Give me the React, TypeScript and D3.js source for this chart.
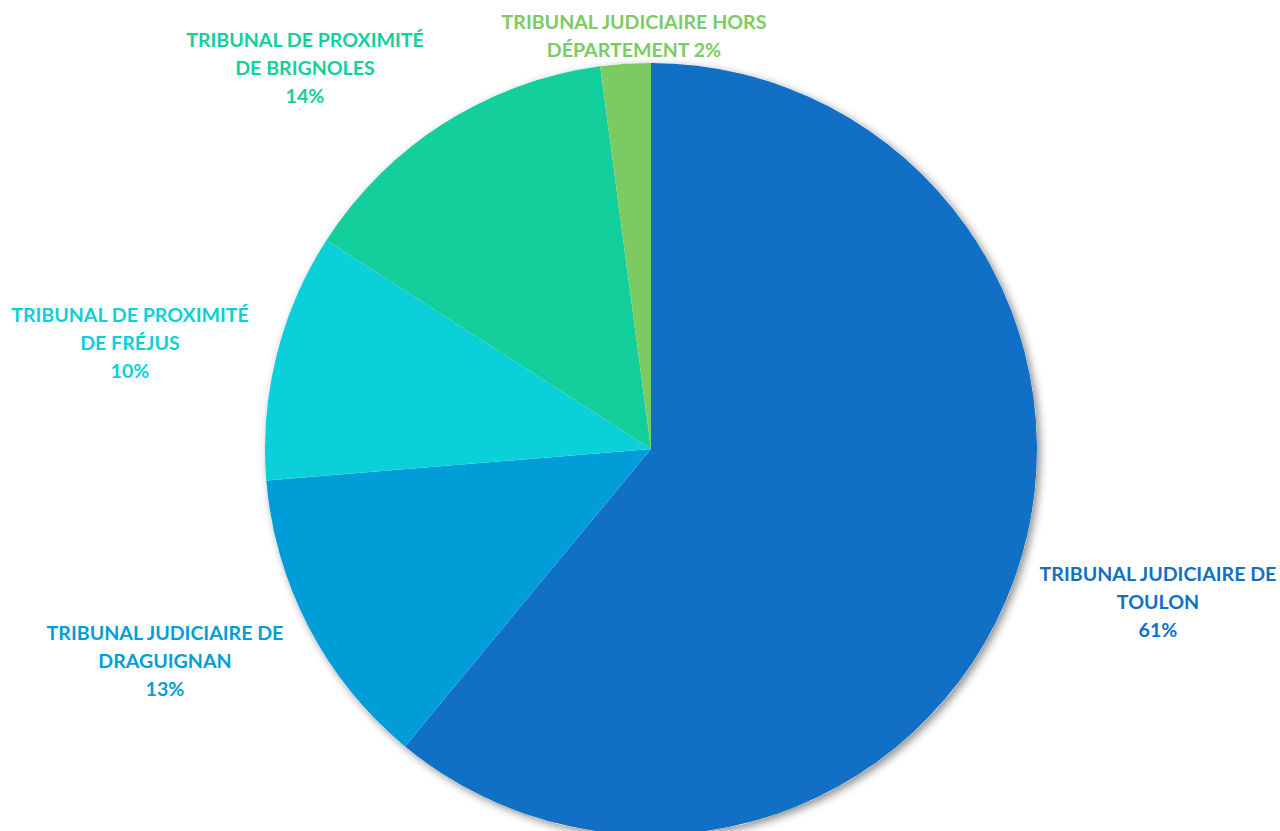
import React from "react";
import * as d3 from "d3";

const categories = [
  "TRIBUNAL JUDICIAIRE DE TOULON",
  "TRIBUNAL JUDICIAIRE DE DRAGUIGNAN",
  "TRIBUNAL DE PROXIMITÉ DE FRÉJUS",
  "TRIBUNAL DE PROXIMITÉ DE BRIGNOLES",
  "TRIBUNAL JUDICIAIRE HORS DÉPARTEMENT",
];
const values = [61.0, 12.7, 10.4, 13.8, 2.1];
const labelLines = [
  ["TRIBUNAL JUDICIAIRE DE", "TOULON", "61%"],
  ["TRIBUNAL JUDICIAIRE DE", "DRAGUIGNAN", "13%"],
  ["TRIBUNAL DE PROXIMITÉ", "DE FRÉJUS", "10%"],
  ["TRIBUNAL DE PROXIMITÉ", "DE BRIGNOLES", "14%"],
  ["TRIBUNAL JUDICIAIRE HORS", "DÉPARTEMENT 2%"],
];
const colors = ["#1170C6", "#009DD9", "#0BD0D9", "#12CF9B", "#7CCA62"];

// label anchor (center of first line) in layout space
const labelPos: [number, number][] = [
  [1158, 574],
  [165, 633],
  [130, 315],
  [305, 40],
  [634, 22],
];

export default function App() {
  const W = 1280, H = 831;
  const cx = 651, cy = 449, r = 386;
  const pie = d3.pie<number>().sort(null).value((d) => d);
  const arcs = pie(values);
  const arc = d3.arc<d3.PieArcDatum<number>>().innerRadius(0).outerRadius(r);
  return (
    <svg
      width={W}
      height={H}
      style={{ position: "absolute", left: 0, top: 0, background: "#fff" }}
    >
      <defs>
        <filter id="sh" x="-20%" y="-20%" width="140%" height="140%">
          <feDropShadow dx="3" dy="3" stdDeviation="4" floodColor="#000" floodOpacity="0.45" />
        </filter>
      </defs>
      <g transform={`translate(${cx},${cy})`}>
        <circle r={r} fill="#fff" filter="url(#sh)" />
        {arcs.map((a, i) => (
          <path key={categories[i]} d={arc(a) || ""} fill={colors[i]} />
        ))}
      </g>
      {labelLines.map((lines, i) => (
        <text
          key={i}
          x={labelPos[i][0]}
          y={labelPos[i][1]}
          textAnchor="middle"
          fill={colors[i]}
          style={{ fontFamily: "Lato, 'Open Sans', sans-serif", fontWeight: 700, fontSize: 19.6 }}
        >
          {lines.map((l, j) => (
            <tspan key={j} x={labelPos[i][0]} dy={j === 0 ? "0.35em" : 28}>
              {l}
            </tspan>
          ))}
        </text>
      ))}
    </svg>
  );
}
